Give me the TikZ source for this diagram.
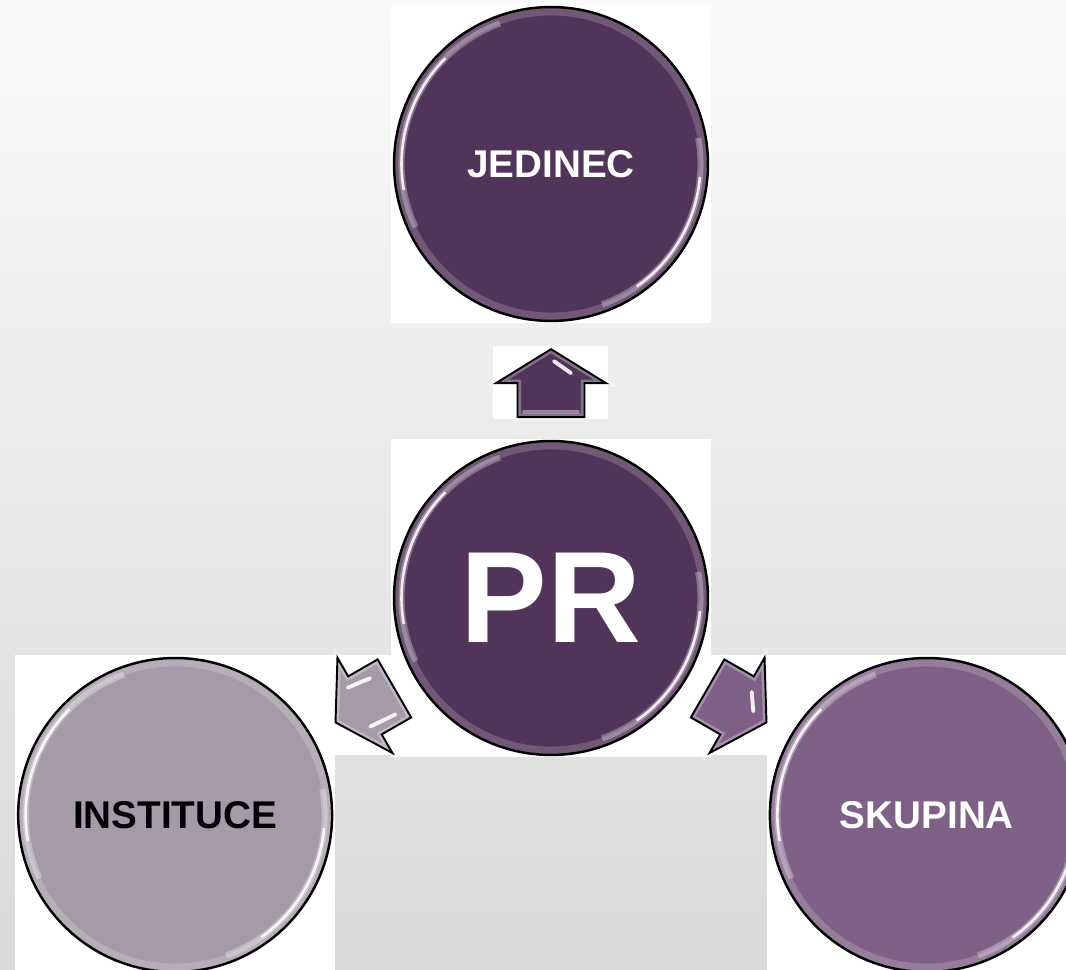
\documentclass[tikz,border=0pt]{standalone}
\usepackage{fontspec}
\setmainfont{Liberation Sans}
\usetikzlibrary{calc}
\definecolor{tmava}{RGB}{81,52,89}
\definecolor{stredni}{RGB}{127,97,135}
\definecolor{svetla}{RGB}{165,155,168}
\tikzset{
  kruh/.style = {circle, draw = black, line width = 1.4pt, minimum size = 6.28cm, inner sep = 0pt,
    text = white, font = \bfseries\fontsize{22}{22}\selectfont,
    path picture = {
      \draw[white, opacity = .18, line width = 5pt] (path picture bounding box.center) circle (3.06cm);
      \draw[white, opacity = .3, line width = 3.5pt] ([shift = {(110:2.99cm)}]path picture bounding box.center) arc (110:205:2.99cm);
      \draw[white, opacity = .85, line width = 1.5pt] ([shift = {(135:2.99cm)}]path picture bounding box.center) arc (135:190:2.99cm);
      \draw[white, opacity = .3, line width = 3.5pt] ([shift = {(-70:2.99cm)}]path picture bounding box.center) arc (-70:10:2.99cm);
      \draw[white, opacity = .85, line width = 1.5pt] ([shift = {(-55:2.99cm)}]path picture bounding box.center) arc (-55:-5:2.99cm);
    }},
  obrys/.style = {insert path = {(0,34) -- (55,0) -- (33.5,0) -- (33.5,-34) -- (-33.5,-34) -- (-33.5,0) -- (-55,0) -- cycle}},
  sipka/.style = {fill = #1, obrys, postaction = {draw = white, opacity = .3, line width = 4pt}, postaction = {draw = black, line width = 1.1pt}},
  odlesk/.style = {white, opacity = .9, line width = 2.2pt, line cap = round}
}

\begin{document}
\begin{tikzpicture}[x = 0.02cm, y = 0.02cm]
\useasboundingbox (0,0) rectangle (1066,970);
\clip (0,0) rectangle (1066,970);
\shade[top color = white!98!black, bottom color = white!85!black] (0,0) rectangle (1066,970);

\fill[white] (391,647) rectangle (711,965);
\fill[white] (391,213) rectangle (711,531);
\fill[white] (15,0) rectangle (335,315);
\fill[white] (767,0) rectangle (1087,315);
\fill[white] (493,551) rectangle (608,624);
\fill[white] (335,215) rectangle (414,315);
\fill[white] (688,215) rectangle (767,315);

\node[kruh, fill = tmava, font = \bfseries\fontsize{74}{74}\selectfont] (pr) at (551,372) {PR};
\node[kruh, fill = tmava] (jedinec) at ($(pr) + (90:434)$) {JEDINEC};
\node[kruh, fill = svetla, text = black] (instituce) at ($(pr) + (210:434)$) {INSTITUCE};
\node[kruh, fill = stredni] (skupina) at ($(pr) + (330:434)$) {SKUPINA};

\begin{scope}[shift = {($(pr)!0.495!(jedinec)$)}]
\path[sipka = tmava];
\draw[odlesk] (3,22) -- (20,10);
\draw[odlesk, opacity = .4] (-27,-29) -- (27,-29);
\end{scope}
\begin{scope}[shift = {($(pr)!0.495!(instituce)$)}, rotate = 120]
\path[sipka = svetla];
\draw[odlesk] (24,6) -- (21,-18);
\draw[odlesk] (-21,6) -- (-23,-22);
\end{scope}
\begin{scope}[shift = {($(pr)!0.495!(skupina)$)}, rotate = -120]
\path[sipka = stredni];
\draw[odlesk] (-19,6) -- (-3,17);
\end{scope}
\end{tikzpicture}
\end{document}
